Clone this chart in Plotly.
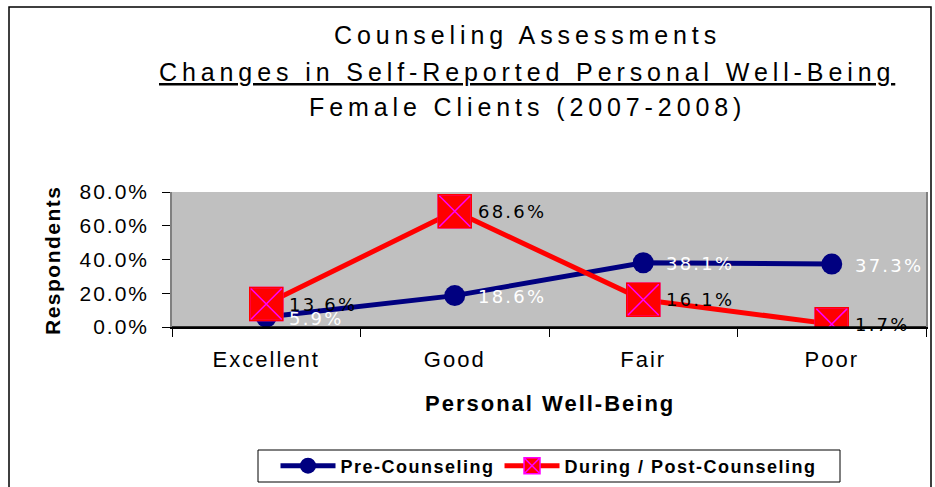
import plotly.graph_objects as go

categories = ["Excellent", "Good", "Fair", "Poor"]
pre_counseling = [5.9, 18.6, 38.1, 37.3]
post_counseling = [13.6, 68.6, 16.1, 1.7]
y_ticks = [0, 20, 40, 60, 80]
y_tick_labels = ["0.0%", "20.0%", "40.0%", "60.0%", "80.0%"]

title_lines = [
    "Counseling Assessments",
    "Changes in Self-Reported Personal Well-Being",
    "Female Clients (2007-2008)",
]

NAVY = "#000080"
RED = "#FF0000"
MAGENTA = "#FF00FF"
FONT = "Liberation Sans, Arial"


def spaced(t, px):
    return f'<span style="letter-spacing:{px}px">{t}</span>'


fig = go.Figure()

fig.add_trace(go.Scatter(
    x=categories, y=pre_counseling, name=spaced("<b>Pre-Counseling</b>", 1.5),
    mode="lines+markers",
    line=dict(color=NAVY, width=5),
    marker=dict(symbol="circle", size=21, color=NAVY),
    hoverinfo="skip",
))
fig.add_trace(go.Scatter(
    x=categories, y=post_counseling, name=spaced("<b>During / Post-Counseling</b>", 1.5),
    mode="lines+markers",
    line=dict(color=RED, width=5),
    marker=dict(symbol="square-x", size=33, color=RED,
                line=dict(color=MAGENTA, width=1.5)),
    hoverinfo="skip",
))
fig.add_trace(go.Scatter(
    x=categories, y=post_counseling, showlegend=False,
    mode="markers",
    marker=dict(symbol="square-open", size=33, color=RED,
                line=dict(color=RED, width=1.5)),
    hoverinfo="skip",
))

annotations = []
for c, v in zip(categories, pre_counseling):
    annotations.append(dict(
        x=c, y=v, xref="x", yref="y", text=spaced(f"{v:.1f}%", 2.2), showarrow=False,
        xanchor="left", yanchor="middle", xshift=21, yshift=-1,
        font=dict(family="DejaVu Sans", size=18, color="white"),
    ))
for c, v in zip(categories, post_counseling):
    annotations.append(dict(
        x=c, y=v, xref="x", yref="y", text=spaced(f"{v:.1f}%", 2.2), showarrow=False,
        xanchor="left", yanchor="middle", xshift=21, yshift=0,
        font=dict(family="DejaVu Sans", size=18, color="black"),
    ))

# pixel helpers (plot area: x 172..926, y 192..327)
def px_x(p):
    return (p - 172) / 754


def px_y(p):
    return (327 - p) / 135


title_y = [35, 72, 107]
for i, (t, ty) in enumerate(zip(title_lines, title_y)):
    annotations.append(dict(
        x=px_x(527), y=px_y(ty), xref="paper", yref="paper",
        text=spaced(t, 4.9),
        showarrow=False, xanchor="center", yanchor="middle",
        font=dict(family=FONT, size=25, color="black",
                  lineposition="under" if i == 1 else "none"),
    ))

annotations.append(dict(
    x=px_x(550), y=px_y(403), xref="paper", yref="paper",
    text=spaced("<b>Personal Well-Being</b>", 2),
    showarrow=False, xanchor="center", yanchor="middle",
    font=dict(family=FONT, size=22, color="black"),
))
annotations.append(dict(
    x=px_x(52), y=px_y(260), xref="paper", yref="paper",
    text=spaced("<b>Respondents</b>", 1.5),
    showarrow=False, xanchor="center", yanchor="middle", textangle=-90,
    font=dict(family=FONT, size=21, color="black"),
))

fig.update_layout(
    width=935, height=487,
    margin=dict(l=172, r=9, t=192, b=160, autoexpand=False),
    paper_bgcolor="white",
    plot_bgcolor="#C0C0C0",
    showlegend=True,
    legend=dict(
        orientation="h", xref="paper", x=px_x(549), xanchor="center",
        yref="container", y=1 - 466 / 487, yanchor="middle",
        borderwidth=0, bgcolor="rgba(0,0,0,0)",
        font=dict(family=FONT, size=18, color="black"),
        itemwidth=55, tracegroupgap=0,
    ),
    annotations=annotations,
    shapes=[
        dict(type="rect", xref="paper", yref="paper",
             x0=px_x(9), x1=px_x(931), y0=px_y(520), y1=px_y(7),
             line=dict(color="black", width=1.5), fillcolor="rgba(0,0,0,0)",
             layer="below"),
        dict(type="rect", xref="paper", yref="paper",
             x0=px_x(258), x1=px_x(840), y0=px_y(482), y1=px_y(450),
             line=dict(color="black", width=1), fillcolor="white",
             layer="below"),
    ],
    xaxis=dict(
        type="category", categoryorder="array", categoryarray=categories,
        range=[-0.5, 3.5], tickson="boundaries", ticks="outside", ticklen=8,
        tickcolor="black", showline=True, linecolor="black", linewidth=1.5,
        mirror=False, showgrid=False, zeroline=False, automargin=False,
        tickvals=categories, ticktext=[spaced(c, 2) for c in categories],
        tickfont=dict(family=FONT, size=22, color="black"),
        ticklabelstandoff=12,
    ),
    yaxis=dict(
        range=[0, 80], tickvals=y_ticks, ticktext=[spaced(t, 2) for t in y_tick_labels],
        ticks="outside", ticklen=8, tickcolor="black",
        showline=True, linecolor="#808080", linewidth=1.5, mirror=True,
        showgrid=False, zeroline=False, automargin=False,
        tickfont=dict(family=FONT, size=21, color="black"),
        ticklabelstandoff=9,
    ),
)
fig.add_shape(type="line", xref="paper", yref="paper", x0=0, x1=1, y0=0, y1=0,
              line=dict(color="black", width=1.5))

fig.write_html(
    "out.html",
    config={"displayModeBar": False},
    post_script="document.body.style.margin='0';document.body.style.overflow='hidden';",
)
